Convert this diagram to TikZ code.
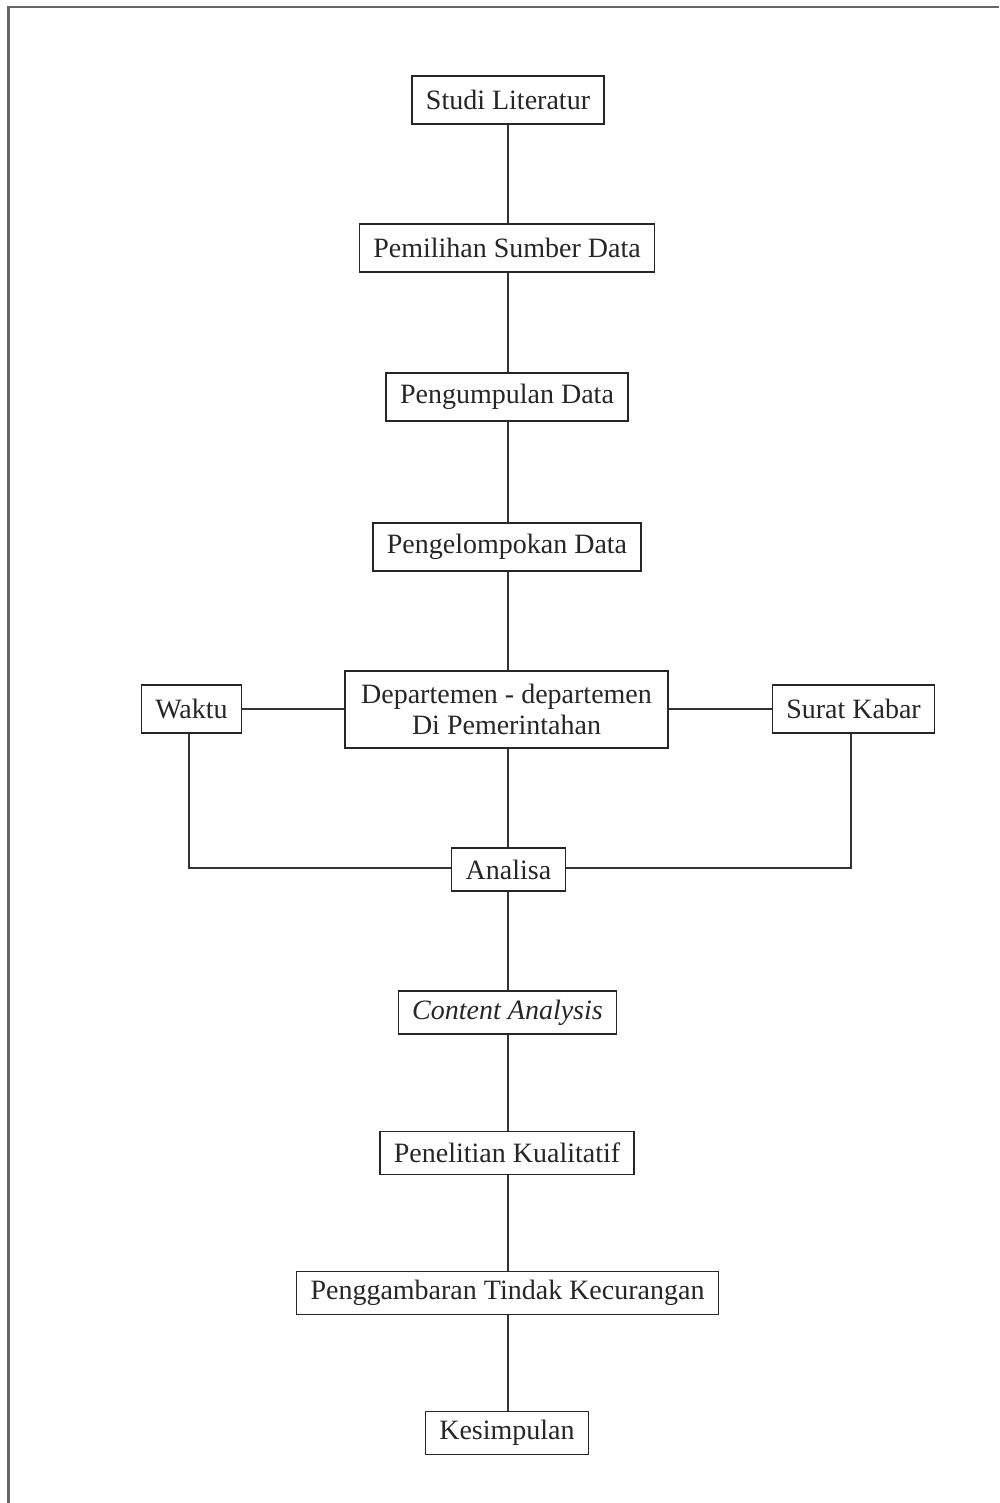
\documentclass[tikz,border=0pt]{standalone}
\usepackage{fontspec}
\setmainfont{Liberation Serif}
\begin{document}
\begin{tikzpicture}[x=1pt,y=-1pt,
  box/.style={draw=black!85, line width=1.3pt, fill=white, inner xsep=14pt, inner ysep=0pt,
    minimum height=48pt, font=\fontsize{28}{31}\selectfont, text=black!85},
  sbox/.style={box, minimum height=43pt},
  conn/.style={draw=black!80, line width=1.3pt},
  frame/.style={draw=black!60, line width=2.2pt}]
\useasboundingbox (0,0) rectangle (999,1503);
\draw[frame] (8.5,1503) -- (8.5,7) -- (999,7);

\node[box] (studi) at (508,100) {Studi Literatur};
\node[box] (pemilihan) at (507,248) {Pemilihan Sumber Data};
\node[box] (pengumpulan) at (507,397) {Pengumpulan Data};
\node[box] (pengelompokan) at (507,547) {Pengelompokan Data};
\node[box, align=center, minimum height=77pt, inner xsep=16pt] (dept) at (506.5,709.5) {Departemen - departemen\\Di Pemerintahan};
\node[box] (waktu) at (191.5,709) {Waktu};
\node[box] (surat) at (853.5,709) {Surat Kabar};
\node[sbox] (analisa) at (508.5,869.5) {Analisa};
\node[sbox] (content) at (507.5,1012.5) {\itshape Content Analysis};
\node[sbox] (penelitian) at (507,1153) {Penelitian Kualitatif};
\node[sbox] (penggambaran) at (507.5,1293) {Penggambaran Tindak Kecurangan};
\node[sbox] (kesimpulan) at (507,1433) {Kesimpulan};

\coordinate (wc) at (189,868);
\coordinate (sc) at (851,868);

\path[conn] (studi.south) -- (studi.south |- pemilihan.north);
\path[conn] (studi.south |- pemilihan.south) -- (studi.south |- pengumpulan.north);
\path[conn] (studi.south |- pengumpulan.south) -- (studi.south |- pengelompokan.north);
\path[conn] (studi.south |- pengelompokan.south) -- (studi.south |- dept.north);
\path[conn] (studi.south |- dept.south) -- (studi.south |- analisa.north);
\path[conn] (studi.south |- analisa.south) -- (studi.south |- content.north);
\path[conn] (studi.south |- content.south) -- (studi.south |- penelitian.north);
\path[conn] (studi.south |- penelitian.south) -- (studi.south |- penggambaran.north);
\path[conn] (studi.south |- penggambaran.south) -- (studi.south |- kesimpulan.north);
\path[conn] (waktu.east) -- (waktu.east -| dept.west);
\path[conn] (surat.west -| dept.east) -- (surat.west);
\path[conn] (wc |- waktu.south) -- (wc) -- (analisa.west |- wc);
\path[conn] (sc |- surat.south) -- (sc) -- (analisa.east |- sc);
\end{tikzpicture}
\end{document}
